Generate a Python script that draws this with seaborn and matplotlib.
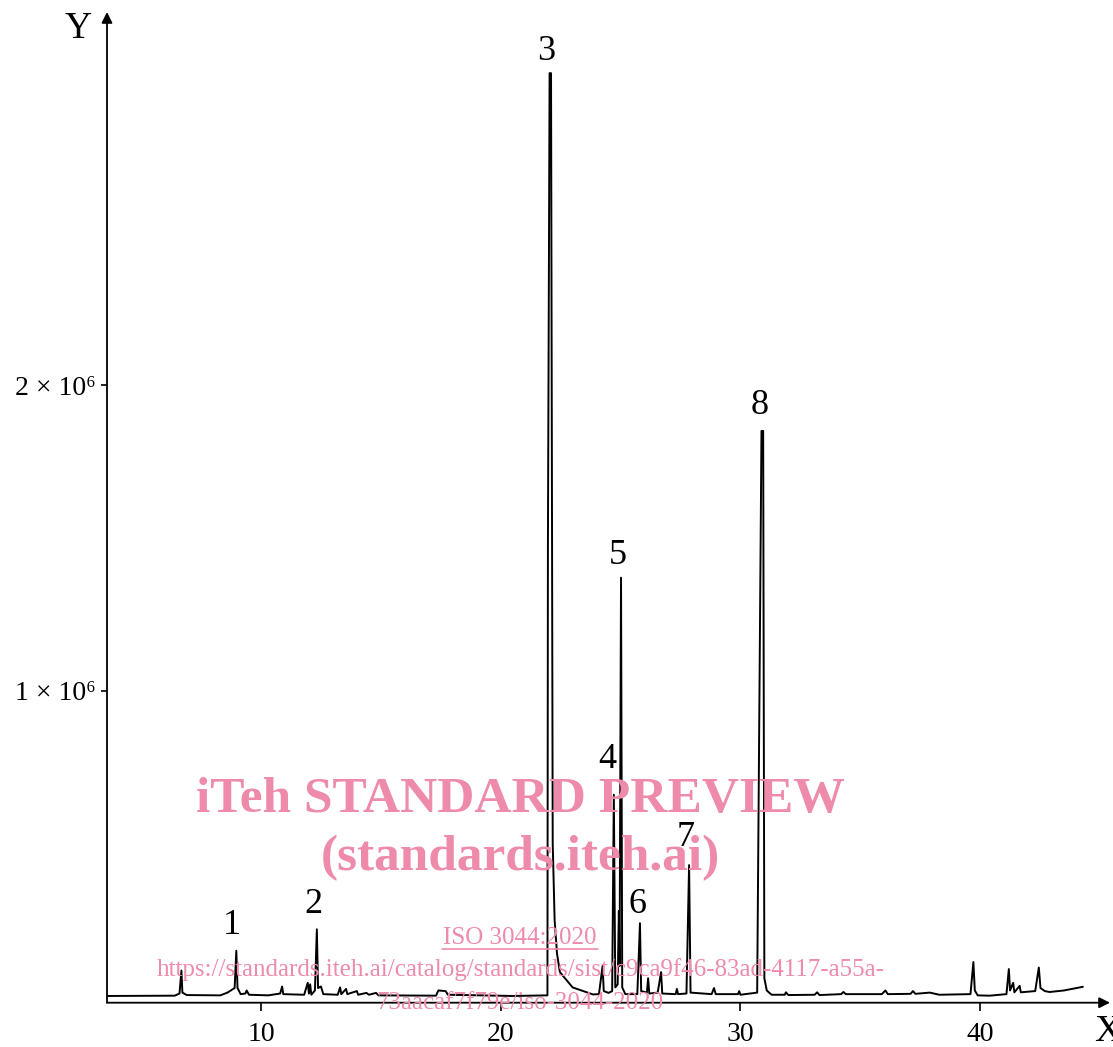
import numpy as np
import pandas as pd
import matplotlib
matplotlib.use("Agg")
import matplotlib.pyplot as plt
import seaborn as sns

# chromatogram trace, vertices (time in min, signal in units of 1e6)
time_min = [
    3.6, 6.4, 6.6, 6.68, 6.72, 6.9, 8.3, 8.6, 8.9, 8.97, 9.02, 9.15, 9.35, 9.4, 9.5,
    10.3, 10.8, 10.88, 10.93, 11.8, 11.95, 12.0, 12.05, 12.1, 12.25, 12.33, 12.38,
    12.5, 12.6, 13.2, 13.3, 13.35, 13.55, 13.6, 14.0, 14.05, 14.4, 14.5, 14.8, 14.9,
    17.3, 17.4, 17.7, 17.8, 20.5, 21.95, 21.97, 22.04, 22.1, 22.17, 22.25, 22.35,
    22.47, 23.0, 23.85, 24.1, 24.25, 24.3, 24.5, 24.65, 24.72, 24.78, 24.88, 24.93,
    24.96, 25.02, 25.07, 25.2, 25.7, 25.81, 25.86, 26.1, 26.15, 26.2, 26.55, 26.69,
    26.74, 27.3, 27.35, 27.4, 27.75, 27.86, 27.92, 28.8, 28.9, 28.97, 29.9, 29.95,
    30.0, 30.7, 30.88, 30.95, 31.0, 31.1, 31.3, 31.85, 31.9, 32.0, 33.1, 33.2, 33.3,
    34.2, 34.3, 34.4, 35.9, 36.05, 36.15, 37.1, 37.2, 37.3, 37.9, 38.3, 39.6, 39.72,
    39.78, 39.9, 40.4, 41.1, 41.2, 41.25, 41.38, 41.43, 41.65, 41.7, 42.3, 42.45,
    42.52, 42.7, 42.9, 43.5, 44.29,
]
signal_e6 = [
    0.002, 0.003, 0.010, 0.085, 0.013, 0.005, 0.004, 0.013, 0.028, 0.150, 0.028, 0.008,
    0.010, 0.020, 0.006, 0.004, 0.010, 0.033, 0.008, 0.006, 0.045, 0.010, 0.040, 0.006,
    0.020, 0.220, 0.028, 0.033, 0.008, 0.006, 0.030, 0.008, 0.025, 0.008, 0.018, 0.006,
    0.012, 0.006, 0.012, 0.004, 0.003, 0.020, 0.018, 0.006, 0.002, 0.004, 1.470, 3.020,
    3.020, 0.500, 0.250, 0.140, 0.080, 0.030, 0.007, 0.008, 0.100, 0.018, 0.012, 0.018,
    0.660, 0.030, 0.040, 0.280, 0.100, 1.370, 0.030, 0.008, 0.008, 0.240, 0.018, 0.013,
    0.060, 0.010, 0.013, 0.080, 0.010, 0.008, 0.025, 0.008, 0.010, 0.430, 0.013, 0.008,
    0.028, 0.008, 0.008, 0.018, 0.006, 0.013, 1.850, 1.850, 0.060, 0.020, 0.006, 0.006,
    0.014, 0.005, 0.006, 0.014, 0.005, 0.008, 0.015, 0.008, 0.008, 0.020, 0.008, 0.009,
    0.018, 0.009, 0.013, 0.006, 0.008, 0.113, 0.020, 0.004, 0.003, 0.008, 0.090, 0.020,
    0.045, 0.014, 0.035, 0.014, 0.018, 0.095, 0.028, 0.018, 0.015, 0.020, 0.032,
]

peak_names = ["1", "2", "3", "4", "5", "6", "7", "8"]
peak_label_time = [8.79, 12.17, 21.89, 24.43, 24.89, 25.69, 27.73, 30.82]
peak_label_e6 = [0.234, 0.30, 3.09, 0.774, 1.444, 0.30, 0.519, 1.934]

xtick_values = [10, 20, 30, 40]
ytick_values = [1e6, 2e6]
ytick_labels = ["1 × 10⁶", "2 × 10⁶"]

df = pd.DataFrame({"time": time_min, "signal": np.array(signal_e6) * 1e6})

sns.set_style("ticks")
serif = ["Liberation Serif", "DejaVu Serif"]
plt.rcParams["font.family"] = serif
plt.rcParams["text.color"] = "black"
plt.rcParams["xtick.color"] = "black"
plt.rcParams["ytick.color"] = "black"

W, H = 1113, 1047
fig = plt.figure(figsize=(W / 100, H / 100), dpi=100)
ax = fig.add_axes([107 / W, (H - 1002.7) / H, (1110 - 107) / W, (1002.7 - 12) / H])

sns.lineplot(data=df, x="time", y="signal", sort=False, estimator=None,
             color="black", lw=1.4, ax=ax, zorder=3)

ax.set_xlim(3.575, 45.42)
ax.set_ylim(-0.02e6, 3.22e6)
ax.set_xlabel("")
ax.set_ylabel("")
for s in ax.spines.values():
    s.set_visible(False)

ax.set_xticks(xtick_values)
ax.set_yticks(ytick_values, labels=ytick_labels)
ax.tick_params(axis="x", length=6, width=1.2, pad=8, labelsize=20, colors="black")
ax.tick_params(axis="y", length=4, width=1.2, pad=4, labelsize=20, colors="black")

# axis arrows
arrow = dict(arrowstyle="-|>", lw=1.3, color="black", mutation_scale=16, shrinkA=0, shrinkB=0)
ax.annotate("", xy=(0, 1), xytext=(0, 0), xycoords="axes fraction", arrowprops=arrow, zorder=4)
ax.annotate("", xy=(1, 0), xytext=(0, 0), xycoords="axes fraction", arrowprops=arrow, zorder=4)

fig.text(78 / W, 1 - 29 / H, "Y", fontsize=27, ha="center", va="center")
fig.text(1108 / W, 1 - 1032 / H, "X", fontsize=27, ha="center", va="center")

for name, t, v in zip(peak_names, peak_label_time, peak_label_e6):
    ax.text(t, v * 1e6, name, fontsize=26, ha="center", va="center", zorder=5)

# watermark
pink = "#EE8AAA"
fig.text(520 / W, 1 - 800 / H, "iTeh STANDARD PREVIEW", fontsize=37, fontweight="bold",
         color=pink, ha="center", va="center", zorder=1)
fig.text(520 / W, 1 - 858 / H, "(standards.iteh.ai)", fontsize=37, fontweight="bold",
         color=pink, ha="center", va="center", zorder=1)
fig.text(520 / W, 1 - 938 / H, "ISO 3044:2020", fontsize=18, color=pink,
         ha="center", va="center", zorder=1)
fig.add_artist(plt.Line2D([442 / W, 598 / W], [1 - 949 / H, 1 - 949 / H], color=pink, lw=1.2))
fig.text(521 / W, 1 - 970 / H,
         "https://standards.iteh.ai/catalog/standards/sist/c9ca9f46-83ad-4117-a55a-",
         fontsize=18, color=pink, ha="center", va="center", zorder=1)
fig.text(520 / W, 1 - 1003 / H, "73aacaf7f79e/iso-3044-2020", fontsize=18, color=pink,
         ha="center", va="center", zorder=1)

fig.savefig("out.png", dpi=100)
